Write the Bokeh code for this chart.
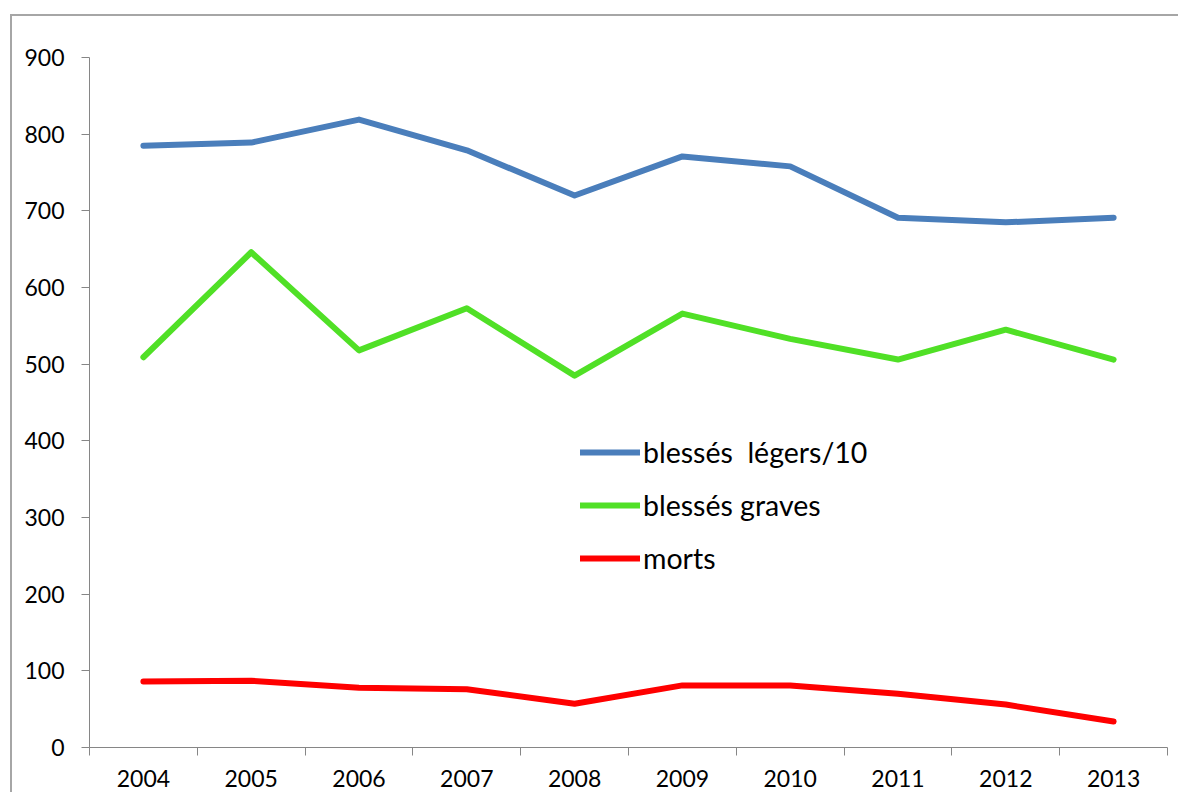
from bokeh.plotting import figure
from bokeh.models import Range1d, FixedTicker, Legend, LegendItem
from bokeh.embed import file_html
from bokeh.resources import INLINE

years = ["2004", "2005", "2006", "2007", "2008", "2009", "2010", "2011", "2012", "2013"]
blesses_legers_10 = [785, 789, 819, 779, 720, 771, 758, 691, 685, 691]
blesses_graves = [509, 646, 518, 573, 485, 566, 533, 506, 545, 506]
morts = [86, 87, 78, 76, 57, 81, 81, 70, 56, 34]
y_ticks = [0, 100, 200, 300, 400, 500, 600, 700, 800, 900]

n = len(years)
x = [i + 0.5 for i in range(n)]

FONT = "Lato"
AXIS_COL = "#868686"

p = figure(frame_width=1078, frame_height=690,
           x_range=Range1d(0, n), y_range=Range1d(0, 900),
           output_backend="svg", toolbar_location=None,
           min_border_left=77, min_border_top=41,
           min_border_right=11, min_border_bottom=45)
p.margin = (14, 0, 0, 10)
p.styles = {"border-top": "2px solid #a6a6a6", "border-left": "2px solid #a6a6a6"}
p.grid.visible = False
p.outline_line_color = None
p.background_fill_color = "white"
p.border_fill_color = "white"

r1 = p.line(x, blesses_legers_10, line_color="#4a7ebb", line_width=6, line_cap="round", line_join="round")
r2 = p.line(x, blesses_graves, line_color="#50e026", line_width=6, line_cap="round", line_join="round")
r3 = p.line(x, morts, line_color="#ff0000", line_width=6, line_cap="round", line_join="round")

xa = p.xaxis[0]
xa.ticker = FixedTicker(ticks=x, minor_ticks=list(range(n + 1)))
xa.major_label_overrides = {xv: yr for xv, yr in zip(x, years)}
xa.major_tick_out = 0
xa.major_tick_in = 0
xa.minor_tick_out = 8
xa.minor_tick_in = 0
xa.minor_tick_line_color = AXIS_COL
xa.axis_line_color = AXIS_COL
xa.major_label_standoff = 14
xa.major_label_text_font = FONT
xa.major_label_text_font_size = "23px"
xa.major_label_text_color = "black"

ya = p.yaxis[0]
ya.ticker = FixedTicker(ticks=y_ticks, minor_ticks=[])
ya.major_tick_out = 8
ya.major_tick_in = 0
ya.minor_tick_out = 0
ya.minor_tick_in = 0
ya.major_tick_line_color = AXIS_COL
ya.axis_line_color = AXIS_COL
ya.major_label_standoff = 17
ya.major_label_text_font = FONT
ya.major_label_text_font_size = "23px"
ya.major_label_text_color = "black"

legend = Legend(items=[
    LegendItem(label="blessés  légers/10", renderers=[r1]),
    LegendItem(label="blessés graves", renderers=[r2]),
    LegendItem(label="morts", renderers=[r3]),
], location=(491, 172))
legend.label_text_font = FONT
legend.label_text_font_size = "28.5px"
legend.label_text_color = "black"
legend.glyph_width = 60
legend.glyph_height = 34
legend.label_height = 34
legend.spacing = 19
legend.padding = 0
legend.margin = 0
legend.label_standoff = 3
legend.border_line_color = None
legend.background_fill_alpha = 0
p.add_layout(legend)

open("out.html", "w").write(file_html(p, INLINE))
